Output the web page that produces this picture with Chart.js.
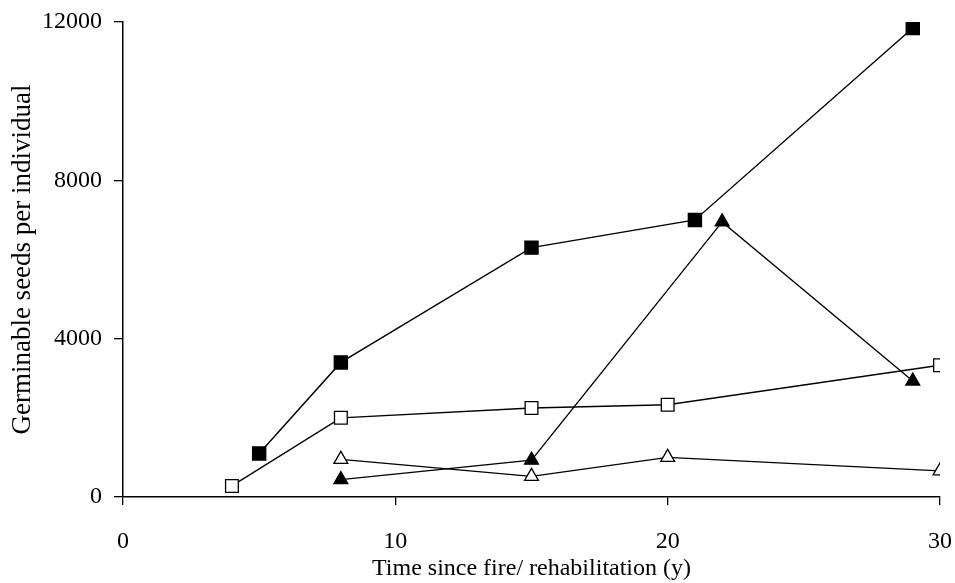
<!DOCTYPE html>
<html>
<head>
<meta charset="utf-8">
<script src="https://cdn.jsdelivr.net/npm/chart.js@4/dist/chart.umd.min.js"></script>
<style>
  html, body { margin: 0; padding: 0; background: #fff; }
  #wrap { width: 955px; height: 583px; position: relative; }
</style>
</head>
<body>
<div id="wrap"><canvas id="seeds-chart"></canvas></div>
<script>
  // values
  var filledSquareX = [5, 8, 15, 21, 29];
  var filledSquareY = [1100, 3400, 6300, 7000, 11850];

  var openSquareX = [4, 8, 15, 20, 30];
  var openSquareY = [280, 2000, 2250, 2330, 3330];

  var filledTriX = [8, 15, 22, 29];
  var filledTriY = [440, 930, 6950, 2930];

  var openTriX = [8, 15, 20, 30];
  var openTriY = [950, 520, 1000, 660];

  var xTicks = [0, 10, 20, 30];
  var yTicks = [0, 4000, 8000, 12000];

  var serif = '"Liberation Serif", "Times New Roman", serif';

  function pts(xs, ys) {
    return xs.map(function (x, i) { return { x: x, y: ys[i] }; });
  }

  function series(label, xs, ys, style, filled, r) {
    return {
      label: label,
      data: pts(xs, ys),
      borderColor: '#000',
      borderWidth: 1.4,
      pointStyle: style,
      pointRadius: r,
      pointBorderWidth: 1.3,
      pointBorderColor: '#000',
      pointBackgroundColor: filled ? '#000' : '#fff',
      fill: false,
      tension: 0
    };
  }

  var ctx = document.getElementById('seeds-chart').getContext('2d');
  var chart = new Chart(ctx, {
    type: 'line',
    data: {
      datasets: [
        series('Filled squares', filledSquareX, filledSquareY, 'rect', true, 9.3),
        series('Open squares', openSquareX, openSquareY, 'rect', false, 9),
        series('Filled triangles', filledTriX, filledTriY, 'triangle', true, 8),
        series('Open triangles', openTriX, openTriY, 'triangle', false, 8)
      ]
    },
    options: {
      responsive: true,
      maintainAspectRatio: false,
      animation: false,
      layout: { padding: { top: 22, right: 15, left: 0, bottom: 0 } },
      plugins: {
        legend: { display: false },
        tooltip: { enabled: false }
      },
      scales: {
        x: {
          type: 'linear',
          min: 0,
          max: 30,
          afterBuildTicks: function (axis) {
            axis.ticks = xTicks.map(function (v) { return { value: v }; });
          },
          grid: { drawOnChartArea: false, color: '#000', tickLength: 8, lineWidth: 1.3 },
          border: { color: '#000', width: 1.5 },
          ticks: {
            color: '#000', padding: 22, maxRotation: 0,
            font: { family: serif, size: 24 },
            callback: function (v) { return String(v); }
          },
          title: {
            display: true,
            text: 'Time since fire/ rehabilitation (y)',
            color: '#000',
            padding: { top: 0, bottom: 0 },
            font: { family: serif, size: 24 }
          },
          afterFit: function (axis) {
            axis.height = 86;
            axis.paddingLeft = 0;
            axis.paddingRight = 0;
          }
        },
        y: {
          min: 0,
          max: 12000,
          afterBuildTicks: function (axis) {
            axis.ticks = yTicks.map(function (v) { return { value: v }; });
          },
          grid: { drawOnChartArea: false, color: '#000', tickLength: 9, lineWidth: 1.3 },
          border: { color: '#000', width: 1.5 },
          ticks: {
            color: '#000', padding: 12,
            font: { family: serif, size: 24 },
            callback: function (v) { return String(v); }
          },
          title: {
            display: true,
            text: 'Germinable seeds per individual',
            color: '#000',
            padding: { top: 7, bottom: 0 },
            font: { family: serif, size: 27 }
          },
          afterFit: function (axis) {
            axis.width = 123;
            axis.paddingTop = 0;
            axis.paddingBottom = 0;
          }
        }
      }
    }
  });
</script>
</body>
</html>
